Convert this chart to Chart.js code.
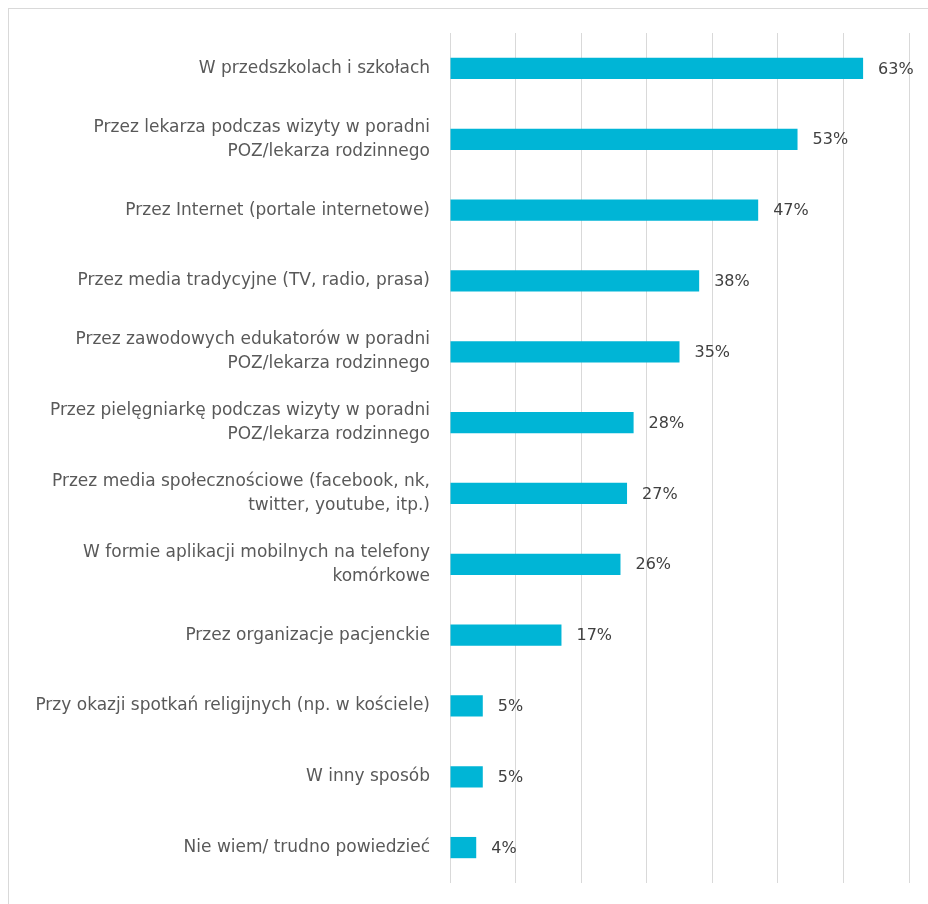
<!DOCTYPE html>
<html>
<head>
<meta charset="utf-8">
<script src="https://cdn.jsdelivr.net/npm/chart.js@4.4.1/dist/chart.umd.min.js"></script>
<style>
  html, body { margin: 0; padding: 0; background: #fff; }
  #wrap { width: 928px; height: 904px; position: relative; }
</style>
</head>
<body>
<div id="wrap"><canvas id="chart"></canvas></div>
<script>
  'use strict';

  // ── Data ──────────────────────────────────────────────────────────

  var CATEGORIES = [
    'W przedszkolach i szkołach',
    ['Przez lekarza podczas wizyty w poradni', 'POZ/lekarza rodzinnego'],
    'Przez Internet (portale internetowe)',
    'Przez media tradycyjne (TV, radio, prasa)',
    ['Przez zawodowych edukatorów w poradni', 'POZ/lekarza rodzinnego'],
    ['Przez pielęgniarkę podczas wizyty w poradni', 'POZ/lekarza rodzinnego'],
    ['Przez media społecznościowe (facebook, nk,', 'twitter, youtube, itp.)'],
    ['W formie aplikacji mobilnych na telefony', 'komórkowe'],
    'Przez organizacje pacjenckie',
    'Przy okazji spotkań religijnych (np. w kościele)',
    'W inny sposób',
    'Nie wiem/ trudno powiedzieć'
  ];

  var VALUES = [63, 53, 47, 38, 35, 28, 27, 26, 17, 5, 5, 4];

  var X_MIN = 0;
  var X_MAX = 70;
  var X_STEP = 10;

  // ── Styles ────────────────────────────────────────────────────────

  var BAR_COLOR  = '#00B5D6';
  var GRID_COLOR = '#D9D9D9';
  var TEXT_COLOR = '#595959';
  var FONT = '"DejaVu Sans", sans-serif';

  // Light frame around the whole chart
  var framePlugin = {
    id: 'frame',
    beforeDraw: function (chart) {
      var ctx = chart.ctx;
      ctx.save();
      ctx.strokeStyle = '#D9D9D9';
      ctx.lineWidth = 1;
      ctx.strokeRect(8.5, 8.5, chart.width + 20, chart.height + 20);
      ctx.restore();
    }
  };

  // Percent labels right of each bar
  var valueLabels = {
    id: 'valueLabels',
    afterDatasetsDraw: function (chart) {
      var ctx = chart.ctx;
      var meta = chart.getDatasetMeta(0);
      ctx.save();
      ctx.font = '16px ' + FONT;
      ctx.fillStyle = '#404040';
      ctx.textAlign = 'left';
      ctx.textBaseline = 'middle';
      meta.data.forEach(function (bar, i) {
        ctx.fillText(VALUES[i] + '%', bar.x + 15, bar.y + 1);
      });
      ctx.restore();
    }
  };

  new Chart(document.getElementById('chart'), {
    type: 'bar',
    data: {
      labels: CATEGORIES,
      datasets: [{
        data: VALUES,
        backgroundColor: BAR_COLOR,
        borderWidth: 0,
        barPercentage: 0.3,
        categoryPercentage: 1
      }]
    },
    options: {
      indexAxis: 'y',
      responsive: true,
      maintainAspectRatio: false,
      animation: false,
      layout: { padding: { top: 33, bottom: 21, right: 19, left: 0 } },
      plugins: {
        legend: { display: false },
        tooltip: { enabled: false }
      },
      scales: {
        x: {
          min: X_MIN,
          max: X_MAX,
          ticks: { display: false, stepSize: X_STEP },
          grid: { color: GRID_COLOR, lineWidth: 1, drawTicks: false },
          border: { display: false },
          afterFit: function (scale) { scale.height = 0; }
        },
        y: {
          grid: { display: false },
          border: { display: false },
          ticks: {
            color: TEXT_COLOR,
            padding: 12,
            font: { family: FONT, size: 17, lineHeight: '24px' }
          },
          afterFit: function (scale) {
            scale.width = 450;
            // labels sit inside their bands, no extra room needed
            scale.paddingTop = 0;
            scale.paddingBottom = 0;
          }
        }
      }
    },
    plugins: [framePlugin, valueLabels]
  });
</script>
</body>
</html>
